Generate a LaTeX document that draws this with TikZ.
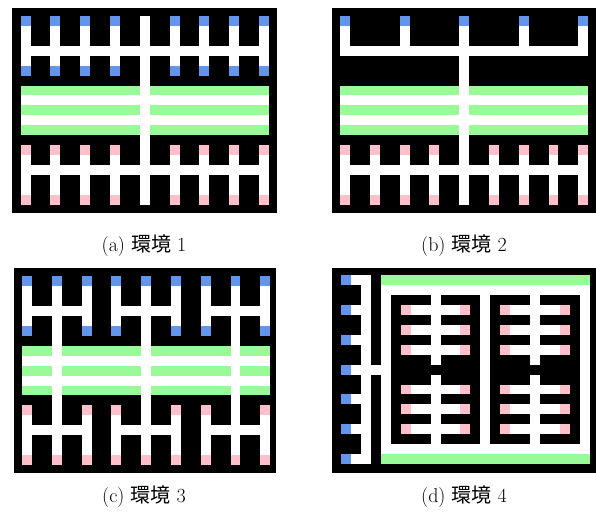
\documentclass[tikz,border=0pt]{standalone}
\usepackage{fontspec}
\newfontfamily\cjkfont{Noto Sans CJK JP}
\definecolor{cblue}{HTML}{6495ED}
\definecolor{cgreen}{HTML}{98FB98}
\definecolor{cpink}{HTML}{FFC0CB}
\newcommand\gblk[5]{\fill[#1] (#2,#3) rectangle (#4+1,#5+1);}
\tikzset{
  panel/.style={fill=black},
  grid/.style={x=9.93pt,y=-9.93pt},
  caption/.style={font=\fontsize{20}{24}\selectfont, inner sep=0pt}
}
\begin{document}
\begin{tikzpicture}[x=1pt,y=-1pt]
\useasboundingbox (0,0) rectangle (596,520);
% ---------- panel (a)
\fill[panel] (12,8) rectangle (276.7,213.3);
\begin{scope}[shift={(20.7pt,-16pt)},grid]
  \gblk{white}{12}{0}{12}{18}
  \foreach \c in {0,3,6,9,15,18,21,24}{
    \gblk{cblue}{\c}{0}{\c}{0}
    \gblk{white}{\c}{1}{\c}{4}
    \gblk{cblue}{\c}{5}{\c}{5}
    \gblk{cpink}{\c}{13}{\c}{13}
    \gblk{white}{\c}{14}{\c}{17}
    \gblk{cpink}{\c}{18}{\c}{18}
  }
  \gblk{white}{0}{3}{24}{3}
  \gblk{white}{0}{15}{24}{15}
  \foreach \r in {7,9,11}{
    \gblk{cgreen}{0}{\r}{11}{\r}
    \gblk{cgreen}{13}{\r}{24}{\r}
  }
  \gblk{white}{0}{8}{24}{8}
  \gblk{white}{0}{10}{24}{10}
\end{scope}
% ---------- panel (b)
\fill[panel] (332,8) rectangle (596,213.3);
\begin{scope}[shift={(340pt,-16pt)},grid]
  \gblk{white}{12}{1}{12}{18}
  \gblk{cblue}{12}{0}{12}{0}
  \foreach \c in {0,6,18,24}{
    \gblk{cblue}{\c}{0}{\c}{0}
    \gblk{white}{\c}{1}{\c}{2}
  }
  \gblk{white}{0}{3}{24}{3}
  \foreach \c in {0,3,6,9,15,18,21,24}{
    \gblk{cpink}{\c}{13}{\c}{13}
    \gblk{white}{\c}{14}{\c}{17}
    \gblk{cpink}{\c}{18}{\c}{18}
  }
  \gblk{white}{0}{15}{24}{15}
  \foreach \r in {7,9,11}{
    \gblk{cgreen}{0}{\r}{11}{\r}
    \gblk{cgreen}{13}{\r}{24}{\r}
  }
  \gblk{white}{0}{8}{24}{8}
  \gblk{white}{0}{10}{24}{10}
\end{scope}
% ---------- panel (c)
\fill[panel] (14,267.7) rectangle (276,472.7);
\begin{scope}[shift={(22pt,-276.3pt)},grid]
  \foreach \g in {0,9,18}{
    \pgfmathtruncatemacro\m{\g+3}
    \pgfmathtruncatemacro\e{\g+6}
    \foreach \c in {\g,\m,\e}{
      \gblk{cblue}{\c}{0}{\c}{0}
      \gblk{white}{\c}{1}{\c}{4}
      \gblk{white}{\c}{14}{\c}{17}
      \gblk{cpink}{\c}{18}{\c}{18}
    }
    \gblk{white}{\g}{3}{\e}{3}
    \gblk{white}{\g}{15}{\e}{15}
    \gblk{cblue}{\g}{5}{\g}{5}
    \gblk{cblue}{\e}{5}{\e}{5}
    \gblk{cpink}{\g}{13}{\g}{13}
    \gblk{cpink}{\e}{13}{\e}{13}
    \gblk{white}{\m}{1}{\m}{17}
  }
  \foreach \r in {7,9,11}{
    \gblk{cgreen}{0}{\r}{2}{\r}
    \gblk{cgreen}{4}{\r}{11}{\r}
    \gblk{cgreen}{13}{\r}{20}{\r}
    \gblk{cgreen}{22}{\r}{24}{\r}
  }
  \gblk{white}{0}{8}{24}{8}
  \gblk{white}{0}{10}{24}{10}
\end{scope}
% ---------- panel (d)
\fill[panel] (332,267.7) rectangle (596,473.3);
\begin{scope}[shift={(341.3pt,-275.3pt)},grid]
  \foreach \r in {0,3,6,9,12,15,18}{
    \gblk{cblue}{0}{\r}{0}{\r}
    \gblk{white}{1}{\r}{1}{\r}
  }
  \gblk{white}{2}{0}{2}{18}
  \gblk{white}{3}{9}{3}{9}
  \gblk{cgreen}{4}{0}{24}{0}
  \gblk{cgreen}{4}{18}{24}{18}
  \gblk{white}{4}{1}{24}{1}
  \gblk{white}{4}{17}{24}{17}
  \gblk{white}{4}{1}{4}{17}
  \gblk{white}{14}{1}{14}{17}
  \gblk{white}{24}{1}{24}{17}
  \foreach \o in {0,10}{
    \pgfmathtruncatemacro\v{9+\o}
    \pgfmathtruncatemacro\pl{6+\o}
    \pgfmathtruncatemacro\wl{7+\o}
    \pgfmathtruncatemacro\wr{11+\o}
    \pgfmathtruncatemacro\pr{12+\o}
    \gblk{white}{\v}{2}{\v}{8}
    \gblk{white}{\v}{10}{\v}{16}
    \foreach \r in {3,5,7,11,13,15}{
      \gblk{cpink}{\pl}{\r}{\pl}{\r}
      \gblk{white}{\wl}{\r}{\wr}{\r}
      \gblk{cpink}{\pr}{\r}{\pr}{\r}
    }
  }
\end{scope}
% ---------- captions
\node[caption] (capa) at (144,246) {(a) {\cjkfont 環境} 1};
\node[caption] (capb) at (464,246) {(b) {\cjkfont 環境} 2};
\node[caption] (capc) at (144,497) {(c) {\cjkfont 環境} 3};
\node[caption] (capd) at (464,497) {(d) {\cjkfont 環境} 4};
\end{tikzpicture}
\end{document}
